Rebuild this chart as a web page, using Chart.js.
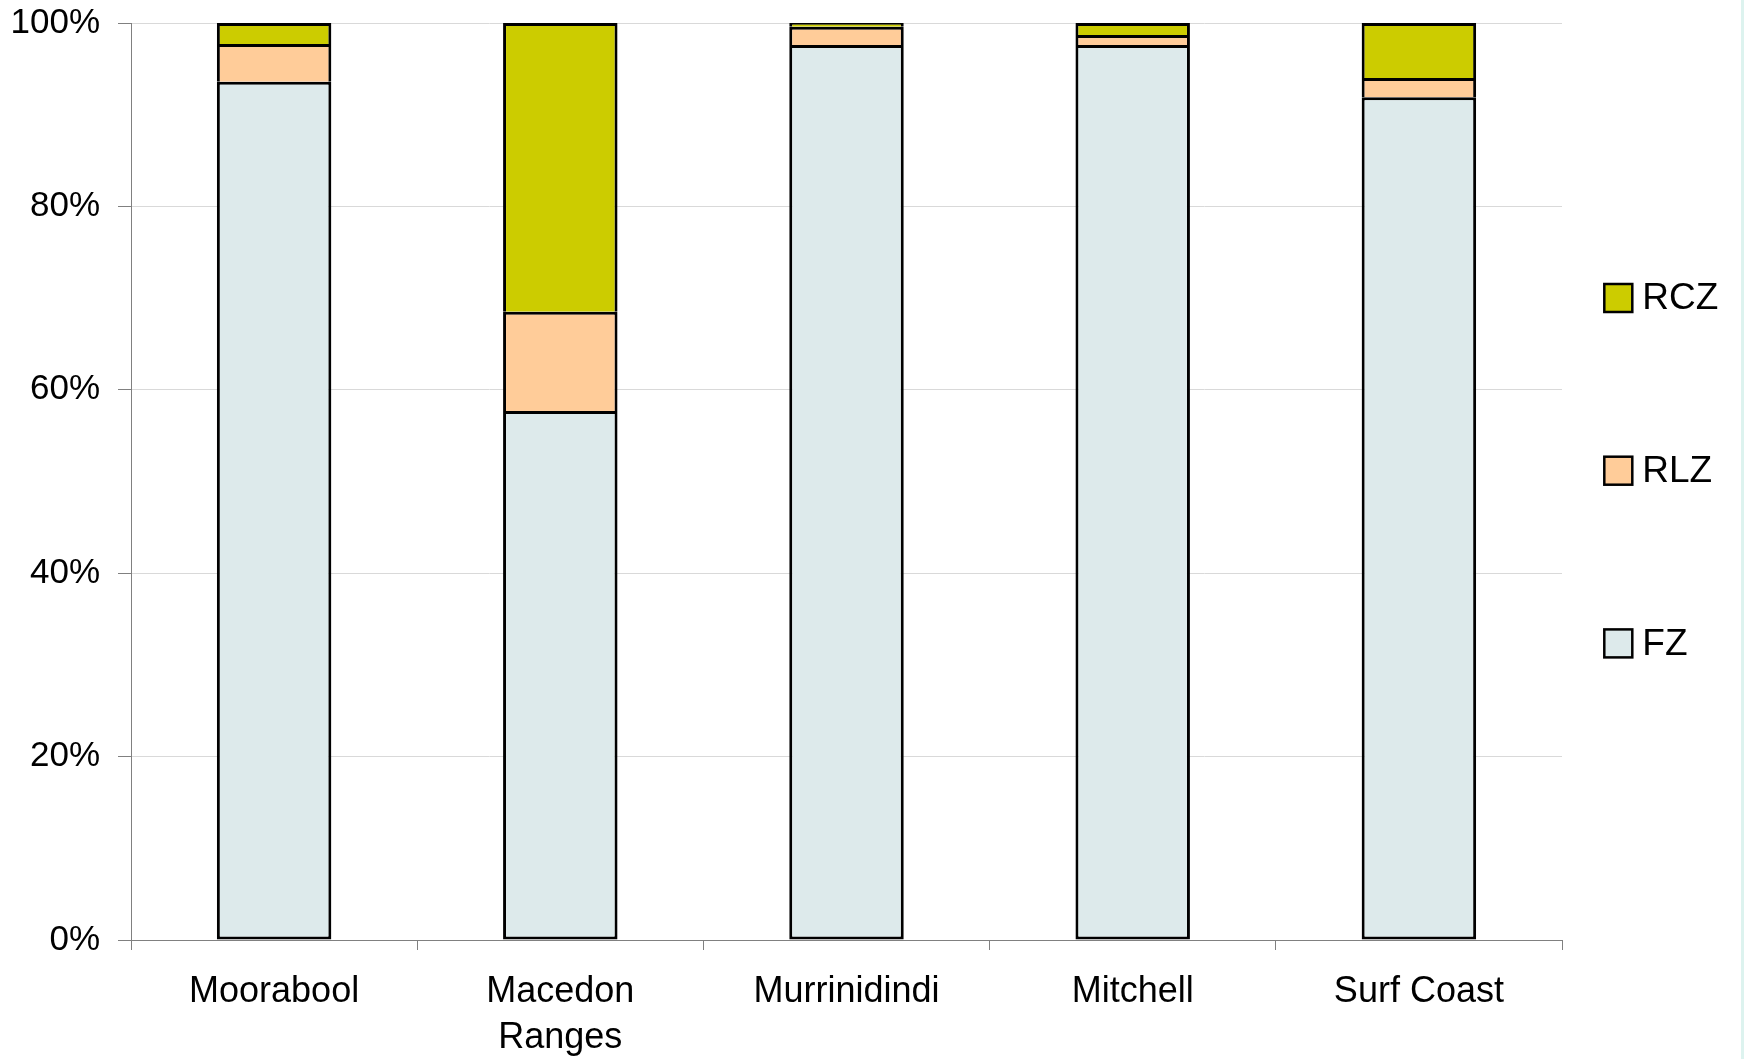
<!DOCTYPE html>
<html>
<head>
<meta charset="utf-8">
<title>Zone share by shire</title>
<script src="https://cdn.jsdelivr.net/npm/chart.js@4"></script>
<style>
  html, body { margin: 0; padding: 0; background: #ddf3ef; overflow: hidden; }
  #wrap { width: 1741px; height: 1059px; background: #fff; position: relative; }
</style>
</head>
<body>
<div id="wrap"><canvas id="zonasChart"></canvas></div>
<script>
// Datos (porcentaje de cada zona por municipio)
const categorias = ['Moorabool', ['Macedon', 'Ranges'], 'Murrinidindi', 'Mitchell', 'Surf Coast'];
const valoresFZ  = [93.6, 57.7, 97.6, 97.6, 91.9];
const valoresRLZ = [4.1, 10.8, 2.0, 1.1, 2.1];
const valoresRCZ = [2.3, 31.5, 0.4, 1.3, 6.0];
const ticksY = [0, 20, 40, 60, 80, 100];

const fuente = '"Liberation Sans", Arial, sans-serif';
Chart.defaults.color = '#000';
Chart.defaults.font.family = fuente;

// Leyenda a la derecha, una entrada por serie (de arriba abajo: RCZ, RLZ, FZ)
const leyendaLateral = {
    id: 'leyendaLateral',
    afterDraw(chart) {
        const ctx = chart.ctx;
        const area = chart.chartArea;
        const series = chart.data.datasets.slice().reverse();
        ctx.save();
        ctx.font = '37px ' + fuente;
        ctx.textBaseline = 'middle';
        series.forEach((ds, i) => {
            const x = area.right + 42.3;
            const y = area.top + 275 + i * 172.7;
            ctx.fillStyle = ds.backgroundColor;
            ctx.fillRect(x, y - 14, 28, 28);
            ctx.lineWidth = 2.5;
            ctx.strokeStyle = '#000';
            ctx.strokeRect(x, y - 14, 28, 28);
            ctx.fillStyle = '#000';
            ctx.fillText(ds.label, x + 38, y + 1);
        });
        ctx.restore();
    }
};

const ctx = document.getElementById('zonasChart').getContext('2d');
new Chart(ctx, {
    type: 'bar',
    data: {
        labels: categorias,
        datasets: [
            { label: 'FZ',  data: valoresFZ,  backgroundColor: '#ddeaeb', borderColor: '#000', borderWidth: 3, borderSkipped: false },
            { label: 'RLZ', data: valoresRLZ, backgroundColor: '#ffcc99', borderColor: '#000', borderWidth: 3, borderSkipped: 'start' },
            { label: 'RCZ', data: valoresRCZ, backgroundColor: '#cccc00', borderColor: '#000', borderWidth: 3, borderSkipped: 'start' }
        ]
    },
    options: {
        responsive: true,
        maintainAspectRatio: false,
        animation: false,
        layout: { padding: { top: 23, right: 179, left: 0, bottom: 0 } },
        datasets: { bar: { categoryPercentage: 1, barPercentage: 0.4 } },
        plugins: {
            legend: { display: false },
            tooltip: {
                callbacks: {
                    label: function(item) {
                        return `${item.dataset.label}: ${item.raw}%`;
                    }
                }
            }
        },
        scales: {
            x: {
                stacked: true,
                grid: { offset: true, drawOnChartArea: false, drawTicks: true, tickLength: 10, tickColor: '#808080' },
                border: { color: '#808080', width: 1 },
                ticks: { font: { size: 36, lineHeight: 1.28 }, padding: 19, maxRotation: 0, autoSkip: false },
                afterFit: function(scale) {
                    scale.height = 119;
                    scale.paddingLeft = 0;
                    scale.paddingRight = 0;
                }
            },
            y: {
                stacked: true,
                min: 0,
                max: 100,
                afterBuildTicks: function(scale) {
                    scale.ticks = ticksY.map(v => ({ value: v }));
                },
                grid: { color: '#d9d9d9', drawTicks: true, tickLength: 13, tickColor: '#808080' },
                border: { color: '#808080', width: 1 },
                ticks: {
                    font: { size: 35 },
                    padding: 18,
                    callback: function(value) { return value + '%'; }
                },
                afterFit: function(scale) {
                    scale.width = 131;
                    scale.paddingTop = 0;
                    scale.paddingBottom = 0;
                }
            }
        }
    },
    plugins: [leyendaLateral]
});
</script>
</body>
</html>
